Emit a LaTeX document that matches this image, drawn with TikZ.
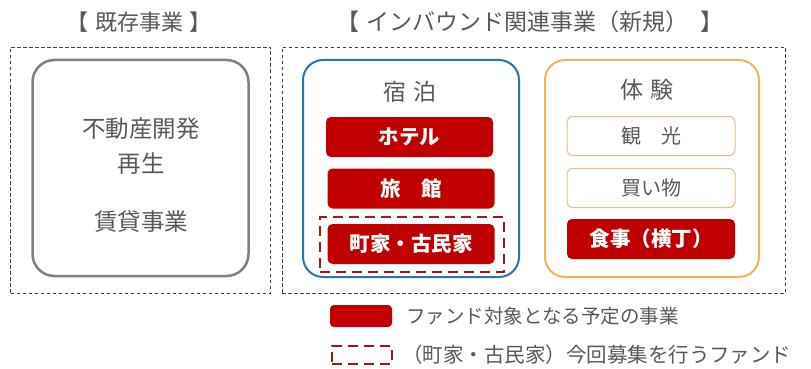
\documentclass[tikz,border=0pt]{standalone}
\usepackage{fontspec}
\newfontfamily\jp{Noto Sans CJK JP}
\definecolor{txtgray}{HTML}{595959}
\definecolor{boxgray}{HTML}{808080}
\definecolor{fundred}{HTML}{C00000}
\definecolor{dashred}{HTML}{A01818}
\definecolor{stayblue}{HTML}{2C74A8}
\definecolor{exporange}{HTML}{F0B45A}
\definecolor{lightorange}{HTML}{E6BE82}
\tikzset{
  outerbox/.style={draw=black!75, line width=0.9pt, dash pattern=on 3.5pt off 2.5pt, rectangle, inner sep=0pt},
  groupbox/.style={rectangle, rounded corners=20pt, line width=2pt, inner sep=0pt},
  redbox/.style={rectangle, fill=fundred, rounded corners=5pt, inner sep=0pt, minimum width=167pt, minimum height=40pt, text=white, font=\jp\bfseries\fontsize{20.5}{22}\selectfont},
  whitebox/.style={rectangle, draw=lightorange, line width=1pt, rounded corners=6pt, inner sep=0pt, minimum width=168pt, minimum height=39pt, text=txtgray, font=\jp\fontsize{20}{22}\selectfont},
  fundbox/.style={rectangle, draw=dashred, line width=2.4pt, dash pattern=on 10pt off 6pt, inner sep=0pt},
  title/.style={text=txtgray, font=\jp\fontsize{22}{24}\selectfont, inner sep=0pt},
  body/.style={text=txtgray, font=\jp\fontsize{23.5}{26}\selectfont, inner sep=0pt},
  legendtxt/.style={text=txtgray, font=\jp\fontsize{19.5}{21}\selectfont, inner sep=0pt, anchor=west}
}
\begin{document}
\begin{tikzpicture}[x=1pt,y=-1pt]
\useasboundingbox (0,0) rectangle (811,369);

% titles
\node[title] (t1) at (139,22) {【\hspace{0.3em}既存事業\hspace{0.3em}】};
\node[title, font=\jp\fontsize{23}{25}\selectfont] (t2) at (530,22) {【\hspace{0.3em}インバウンド関連事業（新規）\hspace{0.5em}】};

% outer dashed boxes
\node[outerbox, minimum width=260pt, minimum height=246pt] (leftout) at (140.5,170) {};
\node[outerbox, minimum width=503pt, minimum height=246pt] (rightout) at (533.5,170) {};

% existing business
\node[groupbox, draw=boxgray, line width=2.5pt, rounded corners=22pt, minimum width=216pt, minimum height=216pt] (exist) at (140.5,168) {};
\node[body] (e1) at (141,129) {不動産開発};
\node[body] (e2) at (141,164) {再生};
\node[body] (e3) at (141,222) {賃貸事業};

% stay
\node[groupbox, draw=stayblue, minimum width=216pt, minimum height=217pt] (stay) at (411,168.5) {};
\node[title, font=\jp\fontsize{23}{25}\selectfont] (stayt) at (410,92) {宿\hspace{0.3em}泊};
\node[redbox] (hotel) at (409.5,137) {ホテル};
\node[redbox] (ryokan) at (411,188.5) {旅\hspace{1em}館};
\node[redbox] (machiya) at (411,244) {町家・古民家};
\node[fundbox, minimum width=184pt, minimum height=55pt] (fund) at (412,244.5) {};

% experience
\node[groupbox, draw=exporange, minimum width=214pt, minimum height=217pt] (exp) at (652,168.5) {};
\node[title, font=\jp\fontsize{23}{25}\selectfont] (expt) at (647,90) {体\hspace{0.3em}験};
\node[whitebox] (kanko) at (651,136) {観\hspace{1em}光};
\node[whitebox] (kaimono) at (651,188) {買い物};
\node[redbox, minimum width=168pt] (shokuji) at (651,239) {食事（横丁）};

% legend
\node[rectangle, fill=fundred, rounded corners=4pt, minimum width=62pt, minimum height=22pt, inner sep=0pt] (leg1) at (361,316) {};
\node[legendtxt] (leg1t) at (406,316) {ファンド対象となる予定の事業};
\node[fundbox, minimum width=60pt, minimum height=18pt] (leg2) at (362,355) {};
\node[legendtxt, font=\jp\fontsize{20.5}{22}\selectfont] (leg2t) at (402,355) {（町家・古民家）今回募集を行うファンド};
\end{tikzpicture}
\end{document}
